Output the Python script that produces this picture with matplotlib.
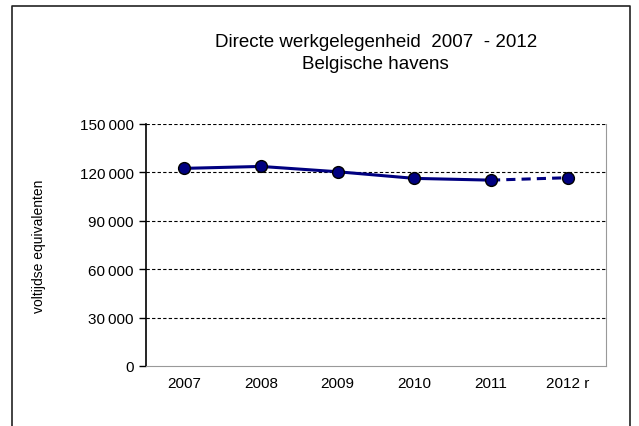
import numpy as np
import matplotlib.pyplot as plt
from matplotlib.ticker import FuncFormatter

plt.rcParams['font.family'] = ['Liberation Sans', 'DejaVu Sans']

years = ['2007', '2008', '2009', '2010', '2011', '2012 r']
jobs = [122500, 123700, 120400, 116300, 115200, 116700]
yticks = [0, 30000, 60000, 90000, 120000, 150000]

fig = plt.figure(figsize=(6.39, 4.27), dpi=100)
W, H = 639, 427
# outer frame (left, top, right; bottom runs off the picture)
frame_x = [11.5 / W, 11.5 / W, 630 / W, 630 / W]
frame_y = [-0.01, 1 - 6.5 / H, 1 - 6.5 / H, -0.01]
fig.add_artist(plt.Line2D(frame_x, frame_y, transform=fig.transFigure,
                          color='#222222', linewidth=1.2))

ax = fig.add_axes([146 / W, 1 - 367 / H, 460 / W, 242 / H])

x = np.arange(len(years))
ax.plot(x[:5], jobs[:5], color='#000080', linewidth=2.2, zorder=3)
ax.plot(x[4:], jobs[4:], color='#000080', linewidth=2.2, linestyle=(0, (3, 2)), zorder=3)
ax.plot(x, jobs, linestyle='none', marker='o', markersize=8.5,
        markerfacecolor='#000080', markeredgecolor='black', markeredgewidth=1, zorder=4)

ax.set_xlim(-0.5, len(years) - 0.5)
ax.set_ylim(0, 150000)
ax.set_xticks(x)
ax.set_xticklabels(years)
ax.set_yticks(yticks)
ax.yaxis.set_major_formatter(FuncFormatter(lambda v, p: f'{int(v):,}'.replace(',', '\u2009')))
ax.tick_params(axis='x', length=0, labelsize=11, pad=7)
ax.tick_params(axis='y', length=5, direction='out', labelsize=11, width=1, pad=4)

for yv in yticks[1:]:
    ax.axhline(yv, color='black', linewidth=0.8, linestyle=(0, (3, 2)), zorder=1)

ax.spines['top'].set_visible(False)
ax.spines['left'].set_linewidth(1.2)
ax.spines['right'].set_color('#999999')
ax.spines['bottom'].set_color('#999999')
ax.spines['bottom'].set_linestyle((0, (1, 1)))

ax.set_ylabel('voltijdse equivalenten', fontsize=10, labelpad=24)

fig.text(0.588, 0.9, 'Directe werkgelegenheid  2007  - 2012', ha='center', va='center', fontsize=13.5)
fig.text(0.588, 0.849, 'Belgische havens', ha='center', va='center', fontsize=13.5)

fig.savefig('out.png', dpi=100)
